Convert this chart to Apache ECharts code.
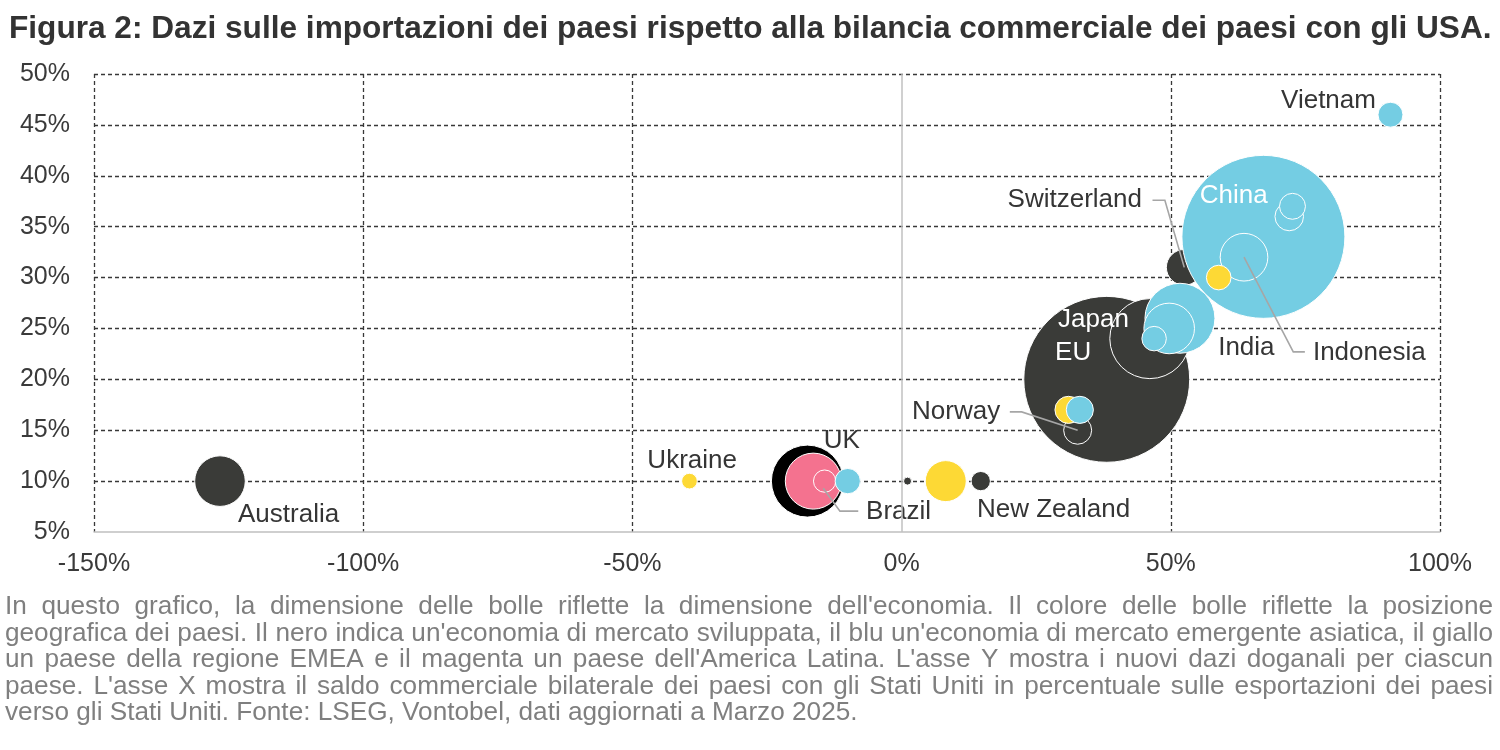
<!DOCTYPE html>
<html>
<head>
<meta charset="utf-8">
<script src="https://cdn.jsdelivr.net/npm/echarts@6/dist/echarts.min.js"></script>
<style>
html,body{margin:0;padding:0;background:#ffffff;}
#chart{width:1500px;height:750px;}
</style>
</head>
<body>
<div id="chart"></div>
<script>
// ---------------- DATA ----------------
const titleText = 'Figura 2: Dazi sulle importazioni dei paesi rispetto alla bilancia commerciale dei paesi con gli USA.';
const captionLines = [
  "In questo grafico, la dimensione delle bolle riflette la dimensione dell'economia. Il colore delle bolle riflette la posizione",
  "geografica dei paesi. Il nero indica un'economia di mercato sviluppata, il blu un'economia di mercato emergente asiatica, il giallo",
  "un paese della regione EMEA e il magenta un paese dell'America Latina. L'asse Y mostra i nuovi dazi doganali per ciascun",
  "paese. L'asse X mostra il saldo commerciale bilaterale dei paesi con gli Stati Uniti in percentuale sulle esportazioni dei paesi",
  "verso gli Stati Uniti. Fonte: LSEG, Vontobel, dati aggiornati a Marzo 2025."
];

const xTicks = [-150, -100, -50, 0, 50, 100];   // %
const yTicks = [5, 10, 15, 20, 25, 30, 35, 40, 45, 50]; // %

// drawing order = stacking order (later ones on top)
const countries  = ['EU','Japan','Norway','Israel','Philippines','Switzerland','India','South Korea','Malaysia','China','Taiwan','Indonesia','Thailand','Bangladesh','South Africa','Vietnam','Australia','Ukraine','UK','Brazil','Colombia','Singapore','Iceland','Turkey','New Zealand'];
const balancePct = [38.1, 46.1, 32.7, 31.0, 33.1, 52.5, 51.7, 49.7, 46.9, 67.2, 62.4, 63.6, 72.0, 72.6, 58.9, 90.8, -126.6, -39.4, -17.5, -16.4, -14.3, -10.0, 1.1, 8.2, 14.7];
const tariffPct  = [20, 24, 15, 17, 17, 31, 26, 25, 24, 34, 32, 32, 36, 37, 30, 46, 10, 10, 10, 10, 10, 10, 10, 10, 10];
const economySize = [17.2, 4.0, 0.49, 0.46, 0.46, 0.80, 3.06, 1.6, 0.375, 16.6, 0.74, 1.42, 0.51, 0.42, 0.38, 0.39, 1.6, 0.154, 3.24, 1.96, 0.31, 0.40, 0.04, 1.05, 0.233];
const region     = ['dm','dm','dm','emea','asia','dm','asia','asia','asia','asia','asia','asia','asia','asia','emea','asia','dm','emea','dmUK','latam','latam','asia','dm','emea','dm'];

// annotation labels (placed in data units)
const labelText  = ['Vietnam','China','Switzerland','Japan','EU','India','Indonesia','Norway','UK','Ukraine','Brazil','New Zealand','Australia'];
const labelX     = [88.1, 61.7, 44.65, 29.05, 28.5, 58.8, 76.4, 18.3, -11.1, -38.9, -6.6, 14.0, -123.25];
const labelY     = [47.4, 38.0, 37.6, 25.8, 22.6, 23.1, 22.6, 16.8, 13.95, 11.95, 7.0, 7.15, 6.7];
const labelAlign = ['right','center','right','left','left','left','left','right','center','center','left','left','left'];
const labelTone  = ['dark','light','dark','light','light','dark','dark','dark','dark','dark','dark','dark','dark'];

// leader lines (data units)
const leaderLines = [
  [[46.6, 37.6], [48.9, 37.6], [52.5, 31.0]],   // Switzerland
  [[63.6, 32.0], [72.75, 22.7], [74.9, 22.7]],  // Indonesia
  [[20.1, 16.8], [22.3, 16.8], [32.7, 15.0]],   // Norway
  [[-14.55, 9.3], [-11.45, 7.05], [-8.05, 7.05]] // Brazil
];

// ---------------- STYLE ----------------
const FONT = "'Liberation Sans', Arial, Helvetica, sans-serif";
const regionColor = { dm: '#3a3b38', dmUK: '#000000', asia: '#74cde3', emea: '#fdd935', latam: '#f4728f' };
const toneColor = { dark: '#353535', light: '#ffffff' };
const BUBBLE_K = 40; // px diameter per sqrt(size)

function fitFont(text, targetW, weight) {
  const ctx = document.createElement('canvas').getContext('2d');
  ctx.font = (weight ? weight + ' ' : '') + '100px ' + FONT;
  return 100 * targetW / ctx.measureText(text).width;
}
function measure(text, size) {
  const ctx = document.createElement('canvas').getContext('2d');
  ctx.font = size + 'px ' + FONT;
  return ctx.measureText(text).width;
}

const titleSize = fitFont(titleText, 1483, 'bold');
const capSize = fitFont(captionLines[4], 853, '');

// caption, justified like the original
const capLeft = 5, capRight = 1493, capTop = 607, capStep = 26.5;
const graphics = [];
captionLines.forEach((line, i) => {
  const y = capTop + i * capStep;
  const style0 = { fill: '#7f7f7f', fontSize: capSize, fontFamily: FONT, verticalAlign: 'middle', textVerticalAlign: 'middle', align: 'left', textAlign: 'left' };
  if (i === captionLines.length - 1) {
    graphics.push({ type: 'text', x: capLeft, y: y, silent: true, style: Object.assign({ text: line }, style0) });
    return;
  }
  const words = line.split(' ');
  const widths = words.map(w => measure(w, capSize));
  const total = widths.reduce((a, b) => a + b, 0);
  const gap = (capRight - capLeft - total) / (words.length - 1);
  let x = capLeft;
  words.forEach((w, j) => {
    graphics.push({ type: 'text', x: x, y: y, silent: true, style: Object.assign({ text: w }, style0) });
    x += widths[j] + gap;
  });
});

const bubbleData = countries.map((c, i) => ({
  name: c,
  value: [balancePct[i], tariffPct[i], economySize[i]],
  itemStyle: { color: regionColor[region[i]], opacity: 1 }
}));

const labelData = labelText.map((t, i) => ({
  name: t,
  value: [labelX[i], labelY[i]],
  label: { align: labelAlign[i], color: toneColor[labelTone[i]], opacity: 1 }
}));

const dashColor = '#383838';
const xSplitColors = xTicks.map(v => v === 0 ? 'rgba(0,0,0,0)' : dashColor);
const ySplitColors = yTicks.map(v => v === yTicks[0] ? 'rgba(0,0,0,0)' : dashColor);

const chart = echarts.init(document.getElementById('chart'), null, { renderer: 'canvas' });
chart.setOption({
  animation: false,
  backgroundColor: '#ffffff',
  title: {
    text: titleText,
    left: 4, top: 8,
    textStyle: { fontFamily: FONT, fontWeight: 'bold', fontSize: titleSize, color: '#333333' }
  },
  grid: { left: 94, right: 60, top: 74, bottom: 218, containLabel: false },
  xAxis: {
    type: 'value',
    min: xTicks[0], max: xTicks[xTicks.length - 1], interval: xTicks[1] - xTicks[0],
    axisLine: { show: true, onZero: false, lineStyle: { color: '#c0c0c0', width: 1.5 } },
    axisTick: { show: false },
    axisLabel: { formatter: '{value}%', fontFamily: FONT, fontSize: 25, color: '#3a3a3a', margin: 20 },
    splitLine: { show: true, showMinLine: true, showMaxLine: true, lineStyle: { color: xSplitColors, type: [4, 3], width: 1.3 } }
  },
  yAxis: {
    type: 'value',
    min: yTicks[0], max: yTicks[yTicks.length - 1], interval: yTicks[1] - yTicks[0],
    axisLine: { show: false },
    axisTick: { show: false },
    axisLabel: { formatter: '{value}%', fontFamily: FONT, fontSize: 25, color: '#3a3a3a', margin: 24 },
    splitLine: { show: true, showMinLine: true, showMaxLine: true, lineStyle: { color: ySplitColors, type: [4, 3], width: 1.3 } }
  },
  graphic: graphics,
  series: [
    {
      name: 'Paesi',
      type: 'scatter',
      z: 2,
      data: bubbleData,
      symbol: 'circle',
      symbolSize: v => BUBBLE_K * Math.sqrt(v[2]),
      itemStyle: { borderColor: '#ffffff', borderWidth: 1, opacity: 1 },
      emphasis: { disabled: true },
      markLine: {
        silent: true, symbol: 'none', label: { show: false },
        lineStyle: { color: '#c0c0c0', type: 'solid', width: 1.5 },
        data: [{ xAxis: 0 }]
      }
    },
    {
      name: 'Leader',
      type: 'lines',
      coordinateSystem: 'cartesian2d',
      polyline: true,
      z: 3,
      silent: true,
      lineStyle: { color: '#a6a6a6', width: 1.6, opacity: 1 },
      data: leaderLines.map(c => ({ coords: c }))
    },
    {
      name: 'Etichette',
      type: 'scatter',
      z: 4,
      silent: true,
      symbol: 'circle',
      symbolSize: 1,
      itemStyle: { color: 'rgba(0,0,0,0)', opacity: 1 },
      emphasis: { disabled: true },
      label: {
        show: true, position: 'inside', formatter: '{b}', opacity: 1,
        fontFamily: FONT, fontSize: 26, verticalAlign: 'middle',
        textBorderWidth: 0
      },
      data: labelData
    }
  ]
});
</script>
</body>
</html>
